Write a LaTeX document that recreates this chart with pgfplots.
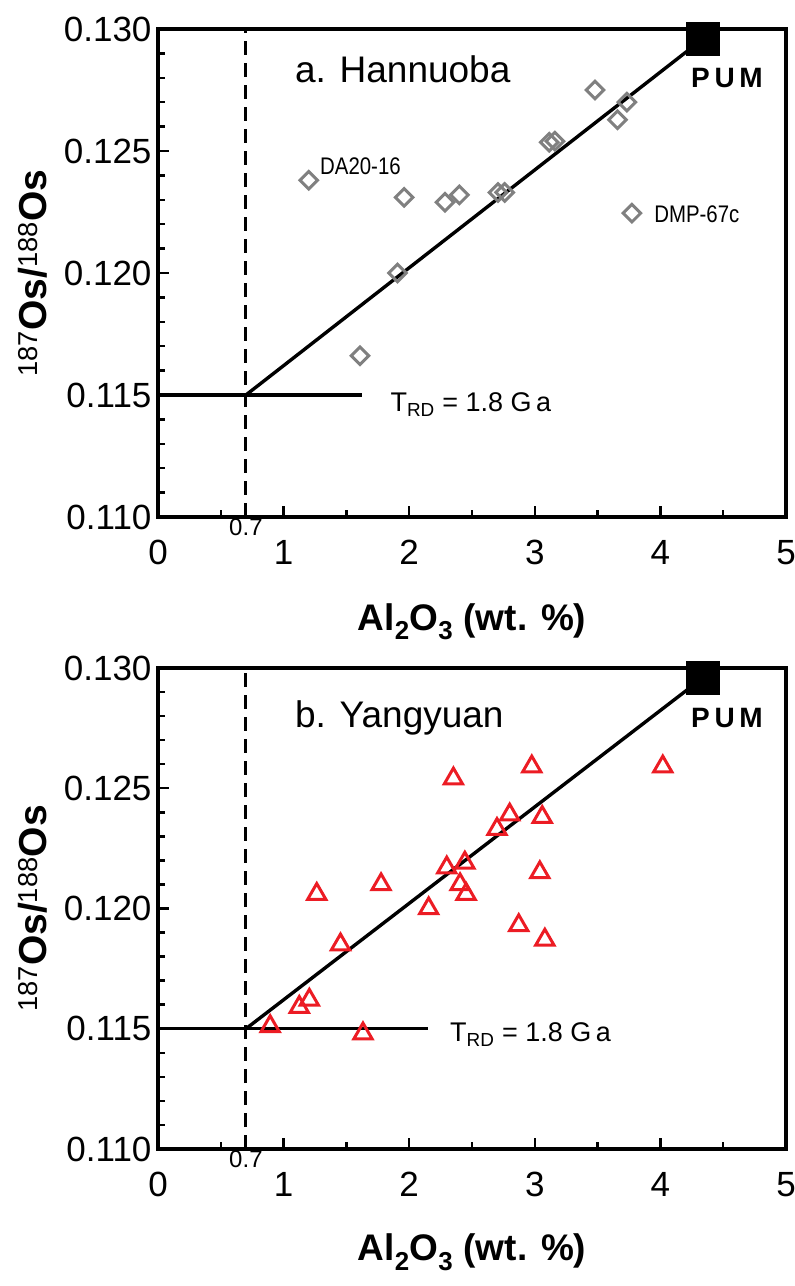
\documentclass[border=0pt]{standalone}
\usepackage{fontspec}
\setmainfont{Liberation Sans}
\newfontfamily\narrowfont{Liberation Sans}[FakeStretch=0.85]
\usepackage{pgfplots}
\pgfplotsset{compat=1.18}
\definecolor{dgray}{RGB}{128,128,128}
\definecolor{tred}{RGB}{236,28,36}
\pgfplotsset{
  panel/.style={
    scale only axis, width=628pt,
    xmin=0, xmax=5, ymin=0.110, ymax=0.130,
    xtick={0,1,2,3,4,5},
    ytick={0.110,0.115,0.120,0.125,0.130},
    minor x tick num=1, minor y tick num=4,
    tick align=inside, tick pos=left,
    major tick length=11pt, minor tick length=7pt,
    every tick/.style={black, line width=2.5pt},
    axis line style={line width=3.4pt},
    clip=false,
    /pgf/number format/assume math mode=true,
    tick label style={font=\fontsize{35}{38}\selectfont},
    y tick label style={/pgf/number format/.cd, fixed, fixed zerofill, precision=3, /tikz/.cd, xshift=-3pt},
    x tick label style={yshift=-20pt},
    ylabel={\bfseries\textsuperscript{\mdseries 187}Os/\textsuperscript{\mdseries 188}Os},
    ylabel style={font=\fontsize{39}{42}\selectfont, at={(axis description cs:-0.199,0.5)}, anchor=center},
    xlabel={\bfseries Al\textsubscript{2}O\textsubscript{3} (wt. \%)},
    xlabel style={font=\fontsize{37}{40}\selectfont, at={(axis description cs:0.5,-0.215)}, anchor=center},
  },
  dashline/.style={black, line width=3pt, dash pattern=on 14pt off 8pt},
  solidline/.style={black, line width=3.4pt},
  pum/.style={only marks, mark=square*, mark size=16.5pt, black, mark options={fill=black}},
}
\begin{document}
\begin{tikzpicture}
\useasboundingbox (0,0) rectangle (795pt,1286pt);
% ---------------- panel a ----------------
\begin{axis}[panel, height=488pt, at={(158pt,769pt)}, anchor=south west]
\addplot[dashline] coordinates {(0.7,0.110) (0.7,0.130)};
\addplot[solidline] coordinates {(0,0.115) (1.627,0.115)};
\addplot[solidline] coordinates {(0.7,0.115) (4.34,0.1296)};
\addplot[only marks, mark=square, mark size=6.2pt, mark options={rotate=45, draw=dgray, line width=3pt}] coordinates {
(1.20,0.1238) (1.96,0.1231) (2.285,0.1229) (2.40,0.1232) (2.707,0.1233)
(2.76,0.1233) (3.115,0.12536) (3.16,0.1254) (3.48,0.1275) (3.733,0.1270)
(3.659,0.12628) (3.773,0.12245) (1.907,0.1200) (1.608,0.11661)};
\addplot[pum] coordinates {(4.34,0.1296)};
\node[anchor=north, font=\fontsize{24}{28}\selectfont, inner sep=2pt] at (axis cs:0.7,0.110) {0.7};
\node[anchor=west, inner sep=0pt, font=\fontsize{37}{40}\selectfont] at (axis cs:1.09,0.12833) {a. Hannuoba};
\node[anchor=west, inner sep=0pt, font=\narrowfont\fontsize{24}{28}\selectfont] at (axis cs:1.29,0.12439) {DA20-16};
\node[anchor=west, inner sep=0pt, font=\narrowfont\fontsize{24}{28}\selectfont] at (axis cs:3.95,0.12239) {DMP-67c};
\node[anchor=center, inner sep=0pt, font=\bfseries\fontsize{28}{30}\selectfont] at (axis cs:4.53,0.1280) {P\,U\,M};
\node[anchor=west, inner sep=0pt, font=\fontsize{27}{30}\selectfont] at (axis cs:1.85,0.1146) {T\textsubscript{RD} = 1.8 G\,a};
\end{axis}
% ---------------- panel b ----------------
\begin{axis}[panel, height=481pt, at={(158pt,137pt)}, anchor=south west]
\addplot[dashline] coordinates {(0.7,0.110) (0.7,0.130)};
\addplot[solidline] coordinates {(0,0.115) (2.15,0.115)};
\addplot[solidline] coordinates {(0.7,0.115) (4.34,0.1296)};
\addplot[only marks, mark=triangle, mark size=10.5pt, mark options={draw=tred, line width=3pt}] coordinates {
(0.893,0.1151) (1.632,0.1148) (1.125,0.1159) (1.205,0.1162) (1.453,0.1185)
(1.264,0.1206) (1.776,0.1210) (2.155,0.1200) (2.352,0.1254) (2.299,0.1217)
(2.443,0.1219) (2.405,0.1210) (2.453,0.1206) (2.976,0.1259) (4.019,0.1259)
(2.80,0.1239) (2.699,0.1233) (3.059,0.1238) (3.04,0.1215) (2.872,0.1193)
(3.08,0.1187)};
\addplot[pum] coordinates {(4.34,0.1296)};
\node[anchor=north, font=\fontsize{24}{28}\selectfont, inner sep=2pt] at (axis cs:0.7,0.110) {0.7};
\node[anchor=west, inner sep=0pt, font=\fontsize{37}{40}\selectfont] at (axis cs:1.09,0.12792) {b. Yangyuan};
\node[anchor=center, inner sep=0pt, font=\bfseries\fontsize{28}{30}\selectfont] at (axis cs:4.53,0.1279) {P\,U\,M};
\node[anchor=west, inner sep=0pt, font=\fontsize{27}{30}\selectfont] at (axis cs:2.325,0.11475) {T\textsubscript{RD} = 1.8 G\,a};
\end{axis}
\end{tikzpicture}
\end{document}
